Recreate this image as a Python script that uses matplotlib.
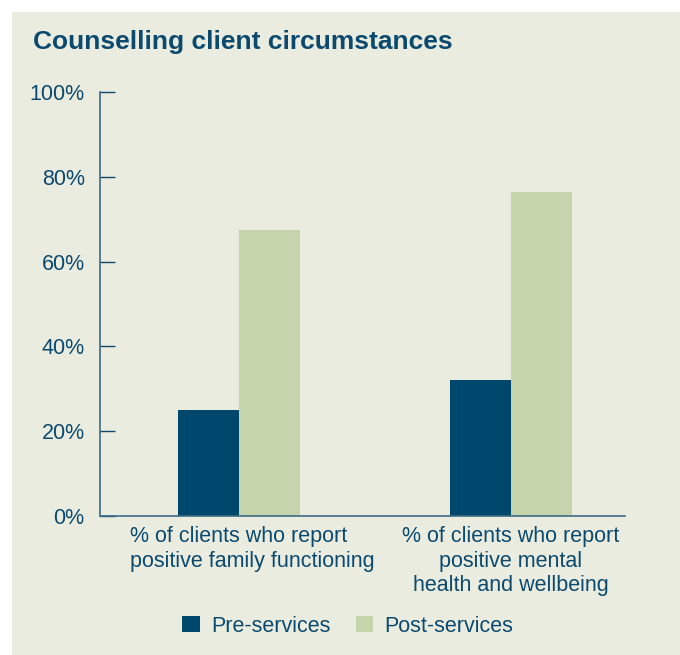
import matplotlib.pyplot as plt
from matplotlib.patches import Rectangle

plt.rcParams['font.family'] = ['Liberation Sans', 'DejaVu Sans']

categories = ['% of clients who report\npositive family functioning',
              '% of clients who report\npositive mental\nhealth and wellbeing']
pre_services = [25, 32]
post_services = [67.5, 76.5]
series_names = ['Pre-services', 'Post-services']

navy = '#00476E'
green = '#C5D4AB'
bg = '#EBECE0'
text_col = '#0B4A6E'

W, H = 680, 655
fig = plt.figure(figsize=(W / 100, H / 100), dpi=100, facecolor='white')
fig.patches.append(Rectangle((12 / W, 0), 1, 1 - 12 / H, transform=fig.transFigure,
                             facecolor=bg, edgecolor='none', zorder=-10))

ax = fig.add_axes([100 / W, 1 - 516 / H, 525 / W, 424 / H])
ax.set_facecolor('none')

x = range(len(categories))
w = 0.224
ax.bar([i - w / 2 for i in x], pre_services, w, color=navy, label=series_names[0])
ax.bar([i + w / 2 for i in x], post_services, w, color=green, label=series_names[1])

ax.set_xlim(-0.51, 1.42)
ax.set_ylim(0, 100)
ax.set_yticks([0, 20, 40, 60, 80, 100])
ax.set_yticklabels([f'{v}%' for v in [0, 20, 40, 60, 80, 100]])
ax.tick_params(axis='y', direction='in', length=11, width=1, color=text_col,
               labelcolor=text_col, labelsize=15.5, pad=11)
ax.set_xticks([])

# category labels: first one is left-aligned in the original, second centred
aligns = ['left', 'center']
offsets = [-109, 0]
for i, (lab, al, off) in enumerate(zip(categories, aligns, offsets)):
    ax.annotate(lab, xy=(i, 0), xycoords=('data', 'axes fraction'),
                xytext=(off, -10), textcoords='offset pixels',
                ha='left' if al == 'left' else 'center', va='top',
                multialignment=al, fontsize=15.5, color=text_col, linespacing=1.22)

for s in ['top', 'right']:
    ax.spines[s].set_visible(False)
for s in ['left', 'bottom']:
    ax.spines[s].set_color('#3C6A86')
    ax.spines[s].set_linewidth(1.2)

fig.text(33 / W, 1 - 42 / H, 'Counselling client circumstances', fontsize=19,
         fontweight='bold', color=text_col, va='center', ha='left')

fig.legend(loc='center', bbox_to_anchor=(348 / W, 1 - 626 / H), ncol=2, frameon=False,
           fontsize=15.5, labelcolor=text_col, handlelength=0.8, handleheight=0.8,
           columnspacing=1.15, handletextpad=0.55)

fig.savefig('out.png', dpi=100, facecolor='white')
